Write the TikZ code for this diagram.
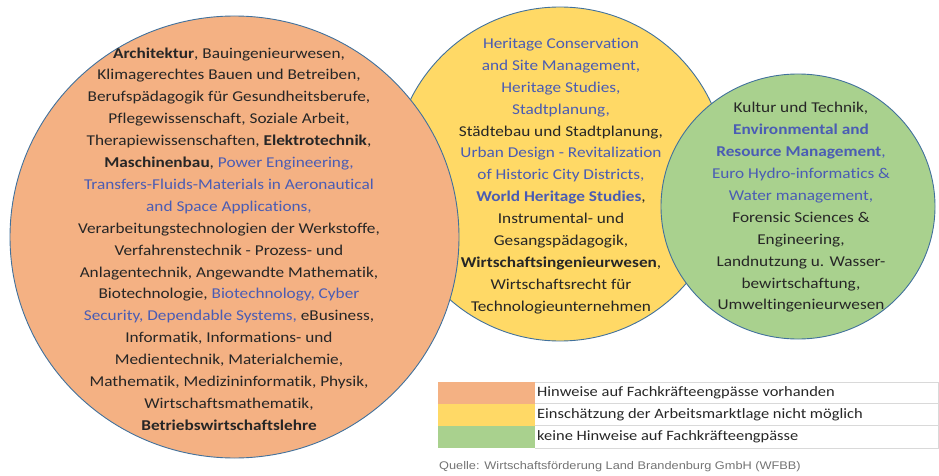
\documentclass[tikz,border=0pt]{standalone}
\usepackage{fontspec}
\setmainfont{Carlito}[Ligatures=NoCommon, FakeStretch=1.15]
\newfontfamily\quellefont{Liberation Sans}[FakeStretch=1.15]
\usepackage{xcolor}

\definecolor{orangeF}{HTML}{F4B183}
\definecolor{yellowF}{HTML}{FFD966}
\definecolor{greenF}{HTML}{A9D18E}
\definecolor{rim}{HTML}{41719C}
\definecolor{engl}{HTML}{4A5CB4}
\definecolor{txt}{HTML}{262626}
\definecolor{rule}{HTML}{D9D9D9}

% english-language programmes in blue
\newcommand{\en}[1]{\textcolor{engl}{#1}}

\begin{document}
\begin{tikzpicture}[x=1pt,y=-1pt]
 	\tikzstyle{every node}+=[inner sep=0pt]
 	\tikzstyle{bubble}=[draw=rim, line width=0.9pt]
 	\tikzstyle{list}=[align=center, text=txt, font=\fontsize{15}{21.9}\selectfont]
 	\tikzstyle{key}=[anchor=west, text=txt, font=\fontsize{14.3}{17}\selectfont]
 	\useasboundingbox (0,0) rectangle (939,476);
 	% the three groups
 	\draw [bubble, fill=yellowF] (560,174) ellipse (167 and 167);
 	\draw [bubble, fill=orangeF] (234.5,237) ellipse (224.5 and 221);
 	\draw [bubble, fill=greenF] (798,206.5) ellipse (137 and 132.5);
 	\node [list] (shortage) at (229,239) {%
 		\textbf{Architektur}, Bauingenieurwesen,\\
 		Klimagerechtes Bauen und Betreiben,\\
 		Berufspädagogik für Gesundheitsberufe,\\
 		Pflegewissenschaft, Soziale Arbeit,\\
 		Therapiewissenschaften, \textbf{Elektrotechnik},\\
 		\textbf{Maschinenbau}, \en{Power Engineering,}\\
 		\en{Transfers-Fluids-Materials in Aeronautical}\\
 		\en{and Space Applications,}\\
 		Verarbeitungstechnologien der Werkstoffe,\\
 		Verfahrenstechnik - Prozess- und\\
 		Anlagentechnik, Angewandte Mathematik,\\
 		Biotechnologie, \en{Biotechnology, Cyber}\\
 		\en{Security, Dependable Systems,} eBusiness,\\
 		Informatik, Informations- und\\
 		Medientechnik, Materialchemie,\\
 		Mathematik, Medizininformatik, Physik,\\
 		Wirtschaftsmathematik,\\
 		\textbf{Betriebswirtschaftslehre}};
 	\node [list] (unclear) at (561,176) {%
 		\en{Heritage Conservation}\\
 		\en{and Site Management,}\\
 		\en{Heritage Studies,}\\
 		\en{Stadtplanung,}\\
 		Städtebau und Stadtplanung,\\
 		\en{Urban Design - Revitalization}\\
 		\en{of Historic City Districts,}\\
 		\en{\textbf{World Heritage Studies}},\\
 		Instrumental- und\\
 		Gesangspädagogik,\\
 		\textbf{Wirtschaftsingenieurwesen},\\
 		Wirtschaftsrecht für\\
 		Technologieunternehmen};
 	\node [list] (noshortage) at (801,207.5) {%
 		Kultur und Technik,\\
 		\en{\textbf{Environmental and}}\\
 		\en{\textbf{Resource Management},}\\
 		\en{Euro Hydro-informatics \&}\\
 		\en{Water management,}\\
 		Forensic Sciences \&\\
 		Engineering,\\
 		Landnutzung u. Wasser-\\
 		bewirtschaftung,\\
 		Umweltingenieurwesen};
 	% legend
 	\fill [orangeF] (438,382) rectangle (535,403.5);
 	\fill [yellowF] (438,403.5) rectangle (535,425.5);
 	\fill [greenF] (438,425.5) rectangle (535,448);
 	\foreach \y in {382,403.5,425.5,448}
 		\draw [rule, line width=0.8pt] (535,\y) -- (939,\y);
 	\draw [rule, line width=0.8pt] (938.6,382) -- (938.6,448);
 	\node [key] (k1) at (537,392.75) {Hinweise auf Fachkräfteengpässe vorhanden};
 	\node [key] (k2) at (537,414.5) {Einschätzung der Arbeitsmarktlage nicht möglich};
 	\node [key] (k3) at (537,436.75) {keine Hinweise auf Fachkräfteengpässe};
 	\node [anchor=west, text=black!55, font=\quellefont\fontsize{11.1}{13}\selectfont] (src) at (439,467) {Quelle: Wirtschaftsförderung Land Brandenburg GmbH (WFBB)};
\end{tikzpicture}
\end{document}
